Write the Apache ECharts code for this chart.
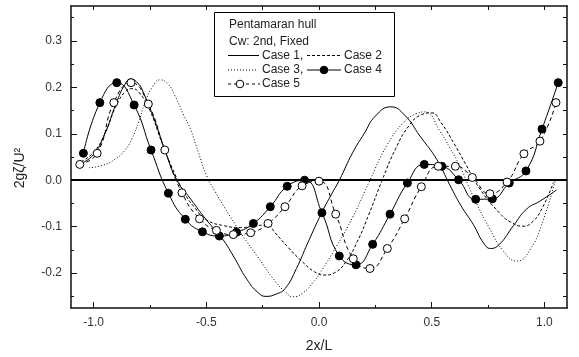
<!DOCTYPE html>
<html>
<head>
<meta charset="utf-8">
<script src="https://cdn.jsdelivr.net/npm/echarts@6/dist/echarts.min.js"></script>
<style>html,body{margin:0;padding:0;background:#fff;}#c{width:579px;height:357px;}</style>
</head>
<body>
<div id="c"></div>
<script>
// Axis ranges and tick values
const xMin = -1.1, xMax = 1.1, yMin = -0.275, yMax = 0.375;
const xMajorTicks = [-1, -0.5, 0, 0.5, 1];
const xMinorTicks = [-0.75, -0.25, 0.25, 0.75];
const xTopTicks = [-1, -0.75, -0.5, -0.25, 0, 0.25, 0.5, 0.75, 1];
const yMajorTicks = [-0.2, -0.1, 0, 0.1, 0.2, 0.3];
const yMinorTicks = [-0.25, -0.15, -0.05, 0.05, 0.15, 0.25, 0.35];
const yRightTicks = [-0.25, -0.2, -0.15, -0.1, -0.05, 0, 0.05, 0.1, 0.15, 0.2, 0.25, 0.3, 0.35];

// Case 1 (solid)
const case1X = [-1.06,-1.0,-0.95,-0.9,-0.86,-0.835,-0.8,-0.78,-0.73,-0.68,-0.63,-0.57,-0.5,-0.43,-0.38,-0.32,-0.27,-0.235,-0.19,-0.15,-0.1,-0.05,0.012,0.05,0.09,0.15,0.2,0.25,0.318,0.38,0.448,0.522,0.58,0.63,0.684,0.73,0.761,0.8,0.862,0.921,0.98,1.054];
const case1Y = [0.035,0.055,0.1,0.165,0.207,0.218,0.207,0.19,0.13,0.06,0.0,-0.04,-0.085,-0.125,-0.163,-0.213,-0.242,-0.25,-0.245,-0.233,-0.19,-0.135,-0.07,-0.035,0.0,0.06,0.1,0.138,0.158,0.14,0.095,0.045,-0.01,-0.055,-0.095,-0.135,-0.147,-0.138,-0.098,-0.062,-0.045,-0.021];

// Case 2 (short dash)
const case2X = [-1.055,-1.0,-0.95,-0.9,-0.86,-0.83,-0.8,-0.75,-0.7,-0.65,-0.6,-0.55,-0.5,-0.42,-0.34,-0.27,-0.228,-0.195,-0.136,-0.077,-0.02,0.025,0.07,0.12,0.17,0.22,0.28,0.34,0.4,0.45,0.5,0.54,0.6,0.65,0.714,0.8,0.85,0.906,0.95,0.99,1.04];
const case2Y = [0.04,0.06,0.1,0.16,0.19,0.197,0.19,0.15,0.085,0.025,-0.025,-0.06,-0.085,-0.098,-0.102,-0.097,-0.097,-0.113,-0.145,-0.174,-0.197,-0.204,-0.199,-0.175,-0.132,-0.075,0.0,0.068,0.118,0.14,0.145,0.125,0.078,0.035,-0.019,-0.07,-0.09,-0.099,-0.088,-0.06,-0.005];

// Case 3 (dotted)
const case3X = [-1.02,-0.96,-0.905,-0.86,-0.831,-0.8,-0.772,-0.74,-0.705,-0.67,-0.639,-0.6,-0.572,-0.535,-0.498,-0.46,-0.42,-0.343,-0.269,-0.195,-0.15,-0.114,-0.07,-0.03,0.004,0.078,0.152,0.226,0.3,0.374,0.43,0.47,0.537,0.58,0.625,0.684,0.758,0.817,0.877,0.936,0.995,1.047];
const case3Y = [0.027,0.032,0.045,0.065,0.088,0.125,0.167,0.2,0.216,0.207,0.182,0.14,0.112,0.06,0.009,-0.025,-0.058,-0.116,-0.167,-0.217,-0.24,-0.251,-0.242,-0.222,-0.2,-0.142,-0.077,0.0,0.074,0.124,0.143,0.147,0.105,0.07,0.03,-0.035,-0.105,-0.152,-0.174,-0.15,-0.085,-0.002];

// Case 4 (solid, filled circles)
const case4X = [-1.045,-0.972,-0.897,-0.820,-0.745,-0.668,-0.593,-0.517,-0.442,-0.366,-0.291,-0.216,-0.141,-0.064,0.013,0.090,0.164,0.238,0.315,0.392,0.467,0.545,0.619,0.695,0.769,0.844,0.918,0.989,1.061];
const case4Y = [0.058,0.167,0.210,0.162,0.065,-0.028,-0.084,-0.111,-0.120,-0.112,-0.093,-0.057,-0.013,0.000,-0.070,-0.163,-0.182,-0.138,-0.073,-0.006,0.034,0.030,0.001,-0.041,-0.040,-0.006,0.020,0.110,0.210];

// Case 5 (dashed, open circles)
const case5X = [-1.061,-0.984,-0.910,-0.834,-0.757,-0.684,-0.608,-0.530,-0.455,-0.380,-0.303,-0.226,-0.151,-0.075,0.000,0.074,0.152,0.226,0.303,0.380,0.454,0.529,0.605,0.680,0.758,0.834,0.909,0.980,1.051];
const case5Y = [0.034,0.058,0.167,0.210,0.164,0.065,-0.027,-0.083,-0.108,-0.117,-0.113,-0.093,-0.057,-0.012,-0.002,-0.073,-0.169,-0.190,-0.147,-0.083,-0.014,0.030,0.030,0.006,-0.029,-0.004,0.057,0.084,0.167];

// Text
const legendTitle1 = 'Pentamaran hull';
const legendTitle2 = 'Cw: 2nd, Fixed';
const caseNames = ['Case 1', 'Case 2', 'Case 3', 'Case 4', 'Case 5'];
const xTitle = '2x/L';
const yTitle = '2gζ/U²';

const zip = (xs, ys) => xs.map((x, i) => [x, ys[i]]);
const FONT = '"Liberation Sans", Arial, sans-serif';
const AX = { color: '#111', width: 1.5 };

const chart = echarts.init(document.getElementById('c'), null, { renderer: 'canvas' });

function xAxisDef(pos, ticks, len, showLine, labels) {
  return {
    type: 'value', min: xMin, max: xMax, position: pos,
    axisLine: { show: showLine, onZero: false, lineStyle: AX },
    axisTick: { show: true, inside: true, length: len, customValues: ticks, lineStyle: { color: '#111', width: 1 } },
    axisLabel: labels ? { show: true, customValues: labels, formatter: v => v.toFixed(1), margin: 9, fontSize: 12, color: '#333', fontFamily: FONT } : { show: false },
    splitLine: { show: false }, minorTick: { show: false }
  };
}
function yAxisDef(pos, ticks, len, showLine, labels) {
  return {
    type: 'value', min: yMin, max: yMax, position: pos,
    axisLine: { show: showLine, onZero: false, lineStyle: AX },
    axisTick: { show: true, inside: true, length: len, customValues: ticks, lineStyle: { color: '#111', width: 1 } },
    axisLabel: labels ? { show: true, customValues: labels, formatter: v => v.toFixed(1), margin: 9, fontSize: 12, color: '#333', fontFamily: FONT } : { show: false },
    splitLine: { show: false }, minorTick: { show: false }
  };
}

const legendX = 214.5, legendY = 12.5, legendW = 180, legendH = 84;
const txt = (x, y, s) => ({ type: 'text', x: x, y: y, style: { text: s, fontSize: 12, fontFamily: FONT, fill: '#222', textVerticalAlign: 'middle' }, z: 101 });
const seg = (x1, x2, y, dash) => ({ type: 'line', shape: { x1: x1, y1: y, x2: x2, y2: y }, style: { stroke: '#000', lineWidth: 1, lineDash: dash }, z: 101 });
const dot = (cx, cy, fill) => ({ type: 'circle', shape: { cx: cx, cy: cy, r: 3.8 }, style: { fill: fill, stroke: '#000', lineWidth: 1 }, z: 102 });

const option = {
  animation: false,
  backgroundColor: '#fff',
  grid: { left: 71, right: 12, top: 6, bottom: 49, containLabel: false, outerBoundsMode: 'none' },
  xAxis: [
    xAxisDef('bottom', xMajorTicks, 6, true, xMajorTicks),
    xAxisDef('bottom', xMinorTicks, 3, false, null),
    xAxisDef('top', xTopTicks, 4, true, null)
  ],
  yAxis: [
    yAxisDef('left', yMajorTicks, 6, true, yMajorTicks),
    yAxisDef('left', yMinorTicks, 3, false, null),
    yAxisDef('right', yRightTicks, 4, true, null)
  ],
  series: [
    { name: caseNames[0], type: 'line', data: zip(case1X, case1Y), smooth: true, symbol: 'none',
      lineStyle: { color: '#000', width: 1 },
      markLine: { silent: true, symbol: 'none', label: { show: false }, lineStyle: { color: '#000', width: 2, type: 'solid' }, data: [{ yAxis: 0 }] } },
    { name: caseNames[1], type: 'line', data: zip(case2X, case2Y), smooth: true, symbol: 'none',
      lineStyle: { color: '#000', width: 1, type: [3, 2] } },
    { name: caseNames[2], type: 'line', data: zip(case3X, case3Y), smooth: true, symbol: 'none',
      lineStyle: { color: '#000', width: 1, type: [1, 2] } },
    { name: caseNames[3], type: 'line', data: zip(case4X, case4Y), smooth: true, symbol: 'circle', symbolSize: 8,
      itemStyle: { color: '#000', borderColor: '#000', borderWidth: 1 }, lineStyle: { color: '#000', width: 1 }, z: 4 },
    { name: caseNames[4], type: 'line', data: zip(case5X, case5Y), smooth: true, symbol: 'circle', symbolSize: 8,
      itemStyle: { color: '#fff', borderColor: '#000', borderWidth: 1 }, lineStyle: { color: '#000', width: 1, type: [4, 3] }, z: 5 }
  ],
  graphic: [
    { type: 'text', x: 319, y: 346, style: { text: xTitle, fontSize: 14, fontFamily: FONT, fill: '#222', textAlign: 'center', textVerticalAlign: 'middle' } },
    { type: 'text', x: 20, y: 168, rotation: Math.PI / 2, style: { text: yTitle, fontSize: 14, fontFamily: FONT, fill: '#222', textAlign: 'center', textVerticalAlign: 'middle' } },
    { type: 'rect', shape: { x: legendX, y: legendY, width: legendW, height: legendH }, style: { fill: '#fff', stroke: '#000', lineWidth: 1 }, z: 100 },
    txt(229, 25, legendTitle1),
    txt(229, 41.5, legendTitle2),
    seg(228, 259, 55.5, null), txt(262, 55.5, caseNames[0] + ','),
    seg(307, 341, 55.5, [3, 2]), txt(344, 55.5, caseNames[1]),
    seg(228, 258, 70, [1, 2]), txt(262, 70, caseNames[2] + ','),
    seg(307, 341, 70, null), dot(324, 70, '#000'), txt(344, 70, caseNames[3]),
    seg(228, 260, 84, [3, 3]), dot(240, 84, '#fff'), txt(262, 84, caseNames[4])
  ]
};
chart.setOption(option);
</script>
</body>
</html>
